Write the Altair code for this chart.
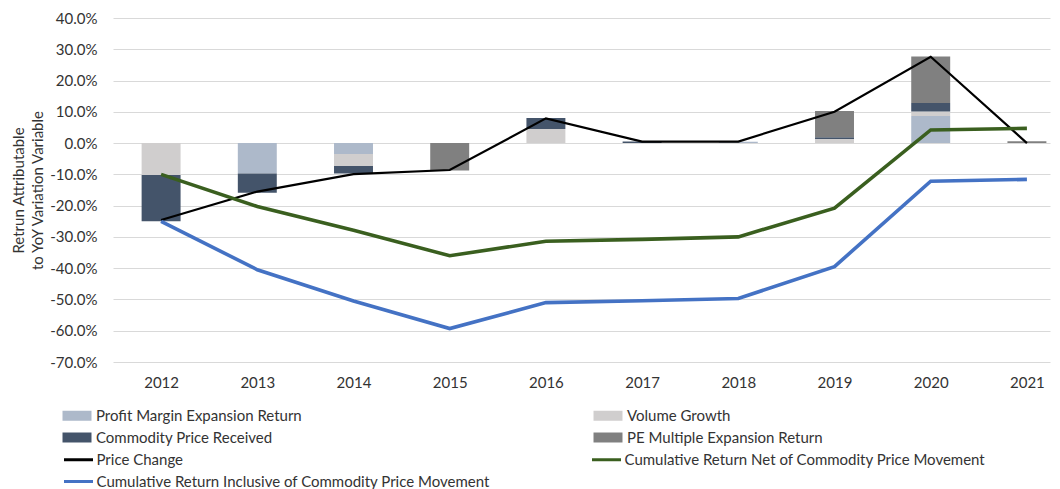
import altair as alt
import pandas as pd

years = [2012, 2013, 2014, 2015, 2016, 2017, 2018, 2019, 2020, 2021]

bar_series = [
    "Profit Margin Expansion Return",
    "Volume Growth",
    "Commodity Price Received",
    "PE Multiple Expansion Return",
]
bar_colors = ["#ADB9CA", "#D0CECE", "#44546A", "#808080"]
profit_margin = [0.0, -0.097, -0.035, 0.0, 0.0, 0.0, 0.004, 0.0, 0.087, 0.0]
volume_growth = [-0.102, 0.0, -0.038, 0.0, 0.045, 0.0, 0.0, 0.013, 0.014, 0.0]
commodity_price = [-0.148, -0.062, -0.024, 0.0, 0.035, 0.005, 0.0, 0.006, 0.027, 0.0]
pe_multiple = [0.0, 0.0, 0.0, -0.088, 0.0, 0.0, 0.0, 0.084, 0.149, 0.006]

line_series = [
    "Price Change",
    "Cumulative Return Net of Commodity Price Movement",
    "Cumulative Return Inclusive of Commodity Price Movement",
]
line_colors = ["#000000", "#3A5F1F", "#4472C4"]
line_widths = [2.2, 3.6, 3.6]
price_change = [-0.246, -0.155, -0.099, -0.086, 0.079, 0.005, 0.005, 0.100, 0.276, 0.0]
cum_net = [-0.100, -0.203, -0.279, -0.360, -0.314, -0.308, -0.300, -0.208, 0.042, 0.047]
cum_incl = [-0.250, -0.405, -0.505, -0.593, -0.510, -0.504, -0.497, -0.395, -0.122, -0.116]

y_ticks = [0.4, 0.3, 0.2, 0.1, 0.0, -0.1, -0.2, -0.3, -0.4, -0.5, -0.6, -0.7]

FONT = "Lato"
TXT = "#333333"
FS = 15

# legend grids fill column by column, so list the entries column-wise
bar_legend_order = [bar_series[0], bar_series[2], bar_series[1], bar_series[3]]
bar_legend_colors = [bar_colors[0], bar_colors[2], bar_colors[1], bar_colors[3]]
line_legend_order = [line_series[0], line_series[2], line_series[1]]
line_legend_colors = [line_colors[0], line_colors[2], line_colors[1]]

bar_rows = []
for order, (name, vals) in enumerate(zip(bar_series, [profit_margin, volume_growth, commodity_price, pe_multiple])):
    for yr, v in zip(years, vals):
        if v != 0:
            bar_rows.append({"year": yr, "series": name, "value": v, "order": order})
bar_df = pd.DataFrame(bar_rows)

line_rows = []
for order, (name, vals, sw) in enumerate(zip(line_series, [price_change, cum_net, cum_incl], line_widths)):
    for yr, v in zip(years, vals):
        line_rows.append({"year": yr, "series": name, "value": v, "order": order, "sw": sw})
line_df = pd.DataFrame(line_rows)

xscale = alt.Scale(domain=[2011.5, 2021.24], nice=False, zero=False)
yscale = alt.Scale(domain=[-0.7, 0.4], nice=False)

xaxis = alt.Axis(
    values=years, format="d", title=None, grid=False, ticks=False, domain=False,
    labelFont=FONT, labelFontSize=FS, labelColor=TXT, labelPadding=13, labelFlush=False,
)
yaxis = alt.Axis(
    values=y_ticks, ticks=False, domain=False, grid=True,
    labelExpr="(datum.value < -0.0001 ? '-' : '') + format(abs(datum.value), '.1%')",
    gridColor="#D9D9D9", gridWidth=1,
    labelFont=FONT, labelFontSize=FS, labelColor=TXT, labelPadding=16,
    title=["Retrun Attributable", "to YoY Variation Variable"],
    titleFont=FONT, titleFontSize=FS, titleFontWeight="normal", titleColor=TXT,
    titleLineHeight=19, titleX=-90, titleY=172, titleAngle=270, titleAlign="center",
    titleBaseline="alphabetic",
)

bars = alt.Chart(bar_df).transform_stack(
    stack="value", groupby=["year"], as_=["v0", "v1"],
    sort=[alt.SortField("order", order="ascending")],
).transform_calculate(
    xl="datum.year - 0.2025", xr="datum.year + 0.2025"
).mark_bar().encode(
    x=alt.X("xl:Q", scale=xscale, axis=xaxis),
    x2="xr:Q",
    y=alt.Y("v0:Q", scale=yscale, axis=yaxis),
    y2="v1:Q",
    fill=alt.Fill(
        "series:N",
        scale=alt.Scale(domain=bar_legend_order, range=bar_legend_colors),
        legend=alt.Legend(
            title=None, orient="none", legendX=-53, legendY=390, columns=2,
            columnPadding=289, rowPadding=6, padding=0,
            symbolType="M-1,-1H4.8V1H-1Z", symbolSize=100, symbolStrokeWidth=0,
            labelOffset=21, labelFont=FONT, labelFontSize=FS, labelColor=TXT,
            labelLimit=600,
        ),
    ),
)

lines = alt.Chart(line_df).mark_line().encode(
    x=alt.X("year:Q", scale=xscale, axis=xaxis),
    y=alt.Y("value:Q", scale=yscale, axis=yaxis),
    stroke=alt.Stroke(
        "series:N",
        scale=alt.Scale(domain=line_legend_order, range=line_legend_colors),
        legend=alt.Legend(
            title=None, orient="none", legendX=-51.5, legendY=434, columns=2,
            columnPadding=95, rowPadding=6, padding=0,
            symbolType="M-1,0H4.8", symbolSize=100, symbolStrokeWidth=3,
            labelOffset=20, labelFont=FONT, labelFontSize=FS, labelColor=TXT,
            labelLimit=600,
        ),
    ),
    strokeWidth=alt.StrokeWidth("sw:Q", scale=None, legend=None),
    order=alt.Order("year:Q"),
)

chart = alt.layer(bars, lines).properties(
    width=937,
    height=344,
    autosize=alt.AutoSizeParams(type="none"),
    padding={"left": 105, "top": 10, "right": 2, "bottom": 127},
).configure_view(stroke=None)

chart.save("out.html", embed_options={"renderer": "svg", "actions": False})
